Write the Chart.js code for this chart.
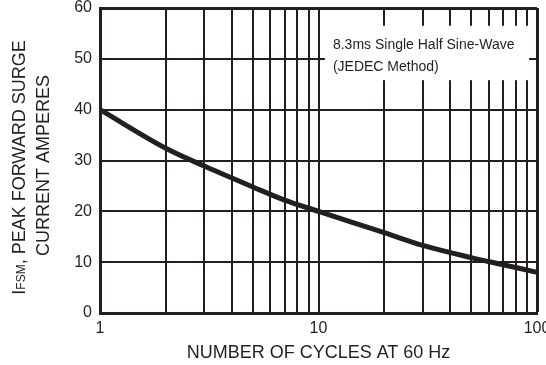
<!DOCTYPE html>
<html>
<head>
<meta charset="utf-8">
<script src="https://cdn.jsdelivr.net/npm/chart.js@4"></script>
<style>
  html, body { margin: 0; padding: 0; background: #fff; }
  #wrap { width: 546px; height: 365px; }
</style>
</head>
<body>
<div id="wrap"><canvas id="c" width="546" height="365"></canvas></div>
<script>
// ---- data ----
const cycles = [1, 2, 3, 5, 7, 10, 20, 30, 50, 70, 100];
const surgeAmps = [40, 32.4, 28.9, 24.8, 22.2, 20.0, 15.8, 13.3, 10.9, 9.5, 8.0];
const xGridTicks = [1, 2, 3, 4, 5, 6, 7, 8, 9, 10, 20, 30, 40, 50, 60, 70, 80, 90, 100];
const xLabelTicks = [1, 10, 100];
const yTicks = [0, 10, 20, 30, 40, 50, 60];
const noteLines = ['8.3ms Single Half Sine-Wave', '(JEDEC Method)'];
const noteBox = { x0: 10.7, x1: 92, y0: 45.8, y1: 56.5 };
const xTitle = 'NUMBER OF CYCLES AT 60 Hz';
const yTitleMain = 'I';
const yTitleSub = 'FSM';
const yTitleRest = ', PEAK FORWARD SURGE';
const yTitleLine2 = 'CURRENT AMPERES';

const INK = '#231f20';
const FONT = '"Liberation Sans", Arial, Helvetica, sans-serif';

const notePlugin = {
  id: 'note',
  beforeDatasetsDraw(chart) {
    const { ctx, scales: { x, y } } = chart;
    const L = x.getPixelForValue(noteBox.x0), R = x.getPixelForValue(noteBox.x1);
    const T = y.getPixelForValue(noteBox.y1), B = y.getPixelForValue(noteBox.y0);
    ctx.save();
    ctx.fillStyle = '#fff';
    ctx.fillRect(L, T, R - L, B - T);
    ctx.fillStyle = INK;
    ctx.font = '14px ' + FONT;
    ctx.textBaseline = 'middle';
    ctx.textAlign = 'left';
    ctx.fillText(noteLines[0], L + 8, T + 19);
    ctx.fillText(noteLines[1], L + 8, T + 41);
    ctx.restore();
  }
};

const yTitlePlugin = {
  id: 'ytitle',
  afterDraw(chart) {
    const { ctx, chartArea } = chart;
    const cy = (chartArea.top + chartArea.bottom) / 2 + 7;
    ctx.save();
    ctx.fillStyle = INK;
    ctx.textBaseline = 'alphabetic';
    ctx.textAlign = 'left';
    const big = '18px ' + FONT, small = '12px ' + FONT;
    ctx.font = big; const wI = ctx.measureText(yTitleMain).width;
    const wR = ctx.measureText(yTitleRest).width;
    ctx.font = small; const wS = ctx.measureText(yTitleSub).width;
    const total = wI + wS + wR;
    ctx.translate(25, cy);
    ctx.rotate(-Math.PI / 2);
    let p = -total / 2;
    ctx.font = big; ctx.fillText(yTitleMain, p, 0); p += wI;
    ctx.font = small; ctx.fillText(yTitleSub, p, 0); p += wS;
    ctx.font = big; ctx.fillText(yTitleRest, p, 0);
    ctx.restore();
    ctx.save();
    ctx.fillStyle = INK;
    ctx.font = '18px ' + FONT;
    ctx.textBaseline = 'alphabetic';
    ctx.textAlign = 'center';
    ctx.translate(48.5, cy - 2);
    ctx.rotate(-Math.PI / 2);
    ctx.fillText(yTitleLine2, 0, 0);
    ctx.restore();
  }
};

new Chart(document.getElementById('c'), {
  type: 'line',
  data: {
    datasets: [{
      data: cycles.map((c, i) => ({ x: c, y: surgeAmps[i] })),
      borderColor: INK,
      borderWidth: 5,
      pointRadius: 0,
      tension: 0.4,
      cubicInterpolationMode: 'monotone',
      fill: false,
      clip: false
    }]
  },
  options: {
    responsive: false,
    animation: false,
    devicePixelRatio: 1,
    layout: { padding: { left: 0, right: 9, top: 8, bottom: 0 } },
    plugins: { legend: { display: false }, tooltip: { enabled: false }, title: { display: false } },
    scales: {
      x: {
        type: 'logarithmic',
        min: 1, max: 100,
        afterBuildTicks(scale) { scale.ticks = xGridTicks.map(v => ({ value: v })); },
        afterFit(scale) { scale.height = 52; scale.paddingLeft = 0; scale.paddingRight = 0; },
        grid: {
          color: INK,
          lineWidth: (ctx) => (ctx.tick && ctx.tick.value === 100) ? 3 : 2,
          drawTicks: false
        },
        border: { display: true, color: INK, width: 3 },
        ticks: {
          autoSkip: false, maxRotation: 0, minRotation: 0,
          padding: 6,
          color: INK,
          font: { family: FONT, size: 16 },
          callback: (v) => xLabelTicks.includes(v) ? String(v) : ''
        },
        title: {
          display: true, text: xTitle, color: INK,
          font: { family: FONT, size: 18 },
          padding: { top: 0, bottom: 1 }
        }
      },
      y: {
        min: 0, max: 60,
        afterBuildTicks(scale) { scale.ticks = yTicks.map(v => ({ value: v })); },
        afterFit(scale) { scale.width = 100; scale.paddingTop = 0; scale.paddingBottom = 0; },
        grid: {
          color: INK,
          lineWidth: (ctx) => (ctx.tick && ctx.tick.value === 60) ? 3 : 2,
          drawTicks: false
        },
        border: { display: true, color: INK, width: 3 },
        ticks: {
          padding: 8,
          color: INK,
          font: { family: FONT, size: 16 },
          callback: (v) => String(v)
        }
      }
    }
  },
  plugins: [notePlugin, yTitlePlugin]
});
</script>
</body>
</html>
